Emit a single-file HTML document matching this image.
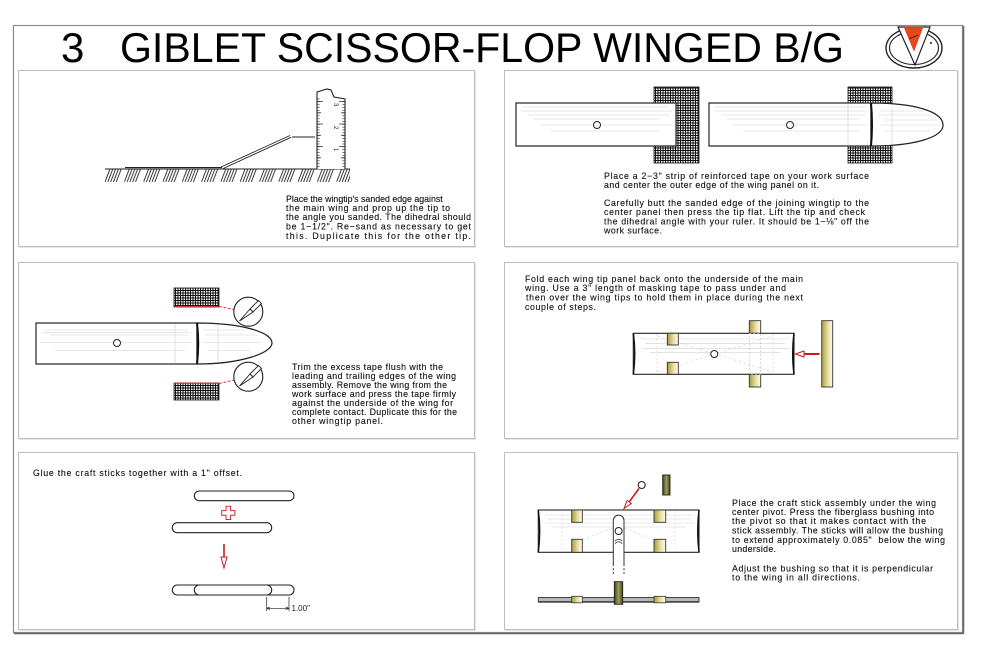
<!DOCTYPE html>
<html><head><meta charset="utf-8"><style>
html,body{margin:0;padding:0;background:#fff;}
svg{display:block;}
.t{font-family:"Liberation Sans",Arial,sans-serif;font-size:8.8px;fill:#111;stroke:#111;stroke-width:0.12;}
</style></head><body>
<svg width="1000" height="647" viewBox="0 0 1000 647" xmlns="http://www.w3.org/2000/svg">
<defs>
<pattern id="mesh" width="2.5" height="2.5" patternUnits="userSpaceOnUse"><rect width="2.5" height="2.5" fill="#fff"/><rect width="2.5" height="1" fill="#111"/><rect width="1" height="2.5" fill="#111"/></pattern>
<pattern id="hatch" x="105" y="169" width="19.3" height="13" patternUnits="userSpaceOnUse">
<g stroke="#222" stroke-width="0.9"><line x1="0" y1="13" x2="5" y2="0"/><line x1="2.8" y1="13" x2="7.8" y2="0"/><line x1="5.6" y1="13" x2="10.6" y2="0"/><line x1="8.4" y1="13" x2="13.4" y2="0"/><line x1="11.2" y1="13" x2="16.2" y2="0"/></g></pattern>
<pattern id="ticks" x="0" y="169" width="4" height="2.8125" patternUnits="userSpaceOnUse"><rect width="4" height="0.6" fill="#222"/></pattern>
<linearGradient id="tape" x1="0" x2="1" y1="0" y2="0"><stop offset="0" stop-color="#a99a3c"/><stop offset="0.55" stop-color="#e6dea6"/><stop offset="1" stop-color="#fffdf0"/></linearGradient>
<linearGradient id="bush" x1="0" x2="1" y1="0" y2="0"><stop offset="0" stop-color="#3f3f10"/><stop offset="0.5" stop-color="#a0a05a"/><stop offset="1" stop-color="#45451a"/></linearGradient>
<clipPath id="hc"><rect x="105" y="169" width="245" height="13"/></clipPath>
</defs>

<!-- outer frame -->
<rect x="13.5" y="25.5" width="949" height="607" fill="#fff" stroke="#8a8a8a" stroke-width="1.2"/>
<line x1="14" y1="633.5" x2="963.5" y2="633.5" stroke="#666" stroke-width="1.5"/>
<line x1="963.5" y1="26" x2="963.5" y2="634" stroke="#666" stroke-width="1.5"/>

<!-- title -->
<text x="61" y="62" style="font-family:'Liberation Sans',Arial,sans-serif;font-size:42px;fill:#000">3</text>
<text x="120" y="62" textLength="724" lengthAdjust="spacingAndGlyphs" style="font-family:'Liberation Sans',Arial,sans-serif;font-size:42px;fill:#000">GIBLET SCISSOR-FLOP WINGED B/G</text>

<!-- logo -->
<g>
<ellipse cx="914" cy="48" rx="28" ry="20" fill="#fff" stroke="#222" stroke-width="1.4"/>
<ellipse cx="914" cy="48" rx="24.5" ry="16.5" fill="#fff" stroke="#222" stroke-width="1.1"/>
<polygon points="898,27 930,27 915,65" fill="#fff" stroke="#222" stroke-width="1.2"/>
<polygon points="904,27 923,27 914,51" fill="#e8471c" stroke="#c33" stroke-width="0.5"/>
<line x1="909" y1="39" x2="918" y2="35" stroke="#222" stroke-width="0.9"/>
<circle cx="931" cy="43" r="1" fill="#222"/>
</g>

<!-- panels -->
<g fill="none">
<g stroke="#e6e6e6" stroke-width="1">
<rect x="19.5" y="71.5" width="456" height="176"/>
<rect x="505.5" y="71.5" width="453" height="176"/>
<rect x="19.5" y="263.5" width="456" height="176"/>
<rect x="505.5" y="263.5" width="453" height="176"/>
<rect x="19.5" y="453.5" width="456" height="177"/>
<rect x="505.5" y="453.5" width="453" height="177"/>
</g>
<g stroke="#bdbdbd" stroke-width="1">
<rect x="18.5" y="70.5" width="456" height="176" fill="#fff"/>
<rect x="504.5" y="70.5" width="453" height="176" fill="#fff"/>
<rect x="18.5" y="262.5" width="456" height="176" fill="#fff"/>
<rect x="504.5" y="262.5" width="453" height="176" fill="#fff"/>
<rect x="18.5" y="452.5" width="456" height="177" fill="#fff"/>
<rect x="504.5" y="452.5" width="453" height="177" fill="#fff"/>
</g>
</g>

<!-- ===== Panel 1 ===== -->
<rect x="105" y="169" width="245" height="13" fill="url(#hatch)" clip-path="url(#hc)"/>
<line x1="105" y1="169" x2="350" y2="169" stroke="#222" stroke-width="1.1"/>
<line x1="125" y1="167.6" x2="222" y2="167.6" stroke="#222" stroke-width="1.1"/>
<line x1="221" y1="167" x2="290" y2="135.5" stroke="#222" stroke-width="0.9"/>
<line x1="223" y1="168.6" x2="291" y2="137.3" stroke="#222" stroke-width="0.9"/>
<line x1="292" y1="137" x2="315" y2="137" stroke="#222" stroke-width="1"/>
<!-- ruler -->
<polyline points="317,169 317,92 327,89 331,90 334,97 345,99 345,169" fill="#fff" stroke="#222" stroke-width="1.1"/>
<rect x="317.5" y="97" width="2.2" height="72" fill="url(#ticks)"/>
<rect x="342.3" y="100" width="2.2" height="69" fill="url(#ticks)"/>
<g stroke="#222" stroke-width="0.7">
<line x1="317" y1="157.75" x2="321" y2="157.75"/><line x1="345" y1="157.75" x2="341" y2="157.75"/>
<line x1="317" y1="146.5" x2="323" y2="146.5"/><line x1="345" y1="146.5" x2="339" y2="146.5"/>
<line x1="317" y1="135.25" x2="321" y2="135.25"/><line x1="345" y1="135.25" x2="341" y2="135.25"/>
<line x1="317" y1="124" x2="323" y2="124"/><line x1="345" y1="124" x2="339" y2="124"/>
<line x1="317" y1="112.75" x2="321" y2="112.75"/><line x1="345" y1="112.75" x2="341" y2="112.75"/>
<line x1="317" y1="101.5" x2="323" y2="101.5"/><line x1="345" y1="101.5" x2="339" y2="101.5"/>
</g>
<g style="font-family:'Liberation Sans',Arial,sans-serif;font-size:6px;fill:#222">
<text transform="translate(334,148) rotate(90)">1</text>
<text transform="translate(334,126) rotate(90)">2</text>
<text transform="translate(334,103) rotate(90)">3</text>
</g>
<g class="t">
<text x="286" y="202">Place the wingtip's sanded edge against</text>
<text x="286" y="211" textLength="164" lengthAdjust="spacing">the main wing and prop up the tip to</text>
<text x="286" y="220" textLength="185" lengthAdjust="spacing">the angle you sanded. The dihedral should</text>
<text x="286" y="229.5" textLength="185" lengthAdjust="spacing">be 1−1/2". Re−sand as necessary to get</text>
<text x="286" y="239" textLength="185" lengthAdjust="spacing">this. Duplicate this for the other tip.</text>
</g>

<!-- ===== Panel 2 ===== -->
<rect x="654" y="87" width="45" height="76" fill="url(#mesh)" stroke="#111" stroke-width="0.8"/>
<rect x="848" y="87" width="44" height="76" fill="url(#mesh)" stroke="#111" stroke-width="0.8"/>
<rect x="516" y="103" width="160" height="43" fill="#fff" stroke="#222" stroke-width="1.2"/>
<rect x="709" y="103" width="162" height="43" fill="#fff" stroke="#222" stroke-width="1.2"/>
<path d="M871,103 C916,103 943,112 943,125 C943,137 916,146 871,146 Z" fill="#fff" stroke="#222" stroke-width="1.2"/>
<path d="M871,103 Q873,124.5 871,146" fill="none" stroke="#111" stroke-width="2"/>
<g stroke="#cfcfcf" stroke-width="0.6">
<line x1="522" y1="107" x2="668" y2="107"/><line x1="520" y1="111" x2="672" y2="111"/><line x1="528" y1="115" x2="670" y2="115"/><line x1="534" y1="119" x2="660" y2="119"/><line x1="540" y1="125" x2="672" y2="125"/><line x1="550" y1="131" x2="660" y2="131"/>
<line x1="715" y1="107" x2="866" y2="107"/><line x1="713" y1="111" x2="866" y2="111"/><line x1="721" y1="115" x2="866" y2="115"/><line x1="727" y1="119" x2="860" y2="119"/><line x1="733" y1="125" x2="866" y2="125"/><line x1="743" y1="131" x2="860" y2="131"/>
<line x1="880" y1="111" x2="925" y2="111"/><line x1="878" y1="115" x2="932" y2="115"/><line x1="885" y1="120" x2="938" y2="120"/><line x1="880" y1="125" x2="940" y2="125"/><line x1="885" y1="131" x2="930" y2="131"/>
<line x1="848" y1="104" x2="848" y2="145"/><line x1="892" y1="106" x2="892" y2="143"/>
</g>
<circle cx="597" cy="125" r="3.5" fill="#fff" stroke="#222" stroke-width="1"/>
<circle cx="790" cy="125" r="3.5" fill="#fff" stroke="#222" stroke-width="1"/>
<g class="t">
<text x="604" y="179" textLength="265" lengthAdjust="spacing">Place a 2−3" strip of reinforced tape on your work surface</text>
<text x="604" y="188" textLength="215" lengthAdjust="spacing">and center the outer edge of the wing panel on it.</text>
<text x="604" y="206" textLength="265" lengthAdjust="spacing">Carefully butt the sanded edge of the joining wingtip to the</text>
<text x="604" y="215" textLength="261" lengthAdjust="spacing">center panel then press the tip flat. Lift the tip and check</text>
<text x="604" y="224.5" textLength="265" lengthAdjust="spacing">the dihedral angle with your ruler. It should be 1−⅛" off the</text>
<text x="604" y="233.5" textLength="58" lengthAdjust="spacing">work surface.</text>
</g>

<!-- ===== Panel 3 ===== -->
<rect x="174" y="288" width="45" height="19" fill="url(#mesh)" stroke="#111" stroke-width="0.8"/>
<rect x="174" y="383" width="45" height="17" fill="url(#mesh)" stroke="#111" stroke-width="0.8"/>
<line x1="174" y1="306.7" x2="219" y2="306.7" stroke="#d02828" stroke-width="1.2"/>
<line x1="174" y1="383.2" x2="219" y2="383.2" stroke="#d02828" stroke-width="1.2"/>
<line x1="219" y1="306.5" x2="234" y2="309.5" stroke="#d02828" stroke-width="0.9" stroke-dasharray="3,1.5"/>
<line x1="219" y1="383.5" x2="234" y2="380" stroke="#d02828" stroke-width="0.9" stroke-dasharray="3,1.5"/>
<rect x="36" y="323" width="161" height="41" fill="#fff" stroke="#222" stroke-width="1.2"/>
<path d="M197,323 C241,323 272,332 272,343 C272,353 241,364 197,364 Z" fill="#fff" stroke="#222" stroke-width="1.2"/>
<path d="M197,323 Q199.5,343.5 197,364" fill="none" stroke="#111" stroke-width="2"/>
<g stroke="#cfcfcf" stroke-width="0.6">
<line x1="44" y1="330" x2="188" y2="330"/><line x1="42" y1="332.5" x2="190" y2="332.5"/><line x1="50" y1="335" x2="188" y2="335"/><line x1="40" y1="342.5" x2="192" y2="342.5"/><line x1="55" y1="350.5" x2="185" y2="350.5"/>
<line x1="203" y1="330" x2="245" y2="330"/><line x1="205" y1="335" x2="258" y2="335"/><line x1="202" y1="342.5" x2="262" y2="342.5"/><line x1="208" y1="350.5" x2="250" y2="350.5"/>
<line x1="175" y1="324" x2="175" y2="363"/><line x1="218" y1="325" x2="218" y2="362"/>
</g>
<circle cx="117" cy="343" r="3.5" fill="#fff" stroke="#222" stroke-width="1"/>
<g stroke="#222" stroke-width="0.9">
<circle cx="248.3" cy="311.7" r="14.5" fill="#fff" stroke-width="1.1"/>
<polygon points="250,309 258.5,300.5 261.5,303.5 253,312" fill="#fff"/>
<polygon points="250,309 253,312 239.5,321" fill="#fff"/>
<circle cx="248.3" cy="376.7" r="14.5" fill="#fff" stroke-width="1.1"/>
<polygon points="250,374 258.5,365.5 261.5,368.5 253,377" fill="#fff"/>
<polygon points="250,374 253,377 239.5,386" fill="#fff"/>
</g>
<g class="t">
<text x="292" y="370" textLength="151" lengthAdjust="spacing">Trim the excess tape flush with the</text>
<text x="292" y="379" textLength="164" lengthAdjust="spacing">leading and trailing edges of the wing</text>
<text x="292" y="388" textLength="155" lengthAdjust="spacing">assembly. Remove the wing from the</text>
<text x="292" y="397" textLength="164" lengthAdjust="spacing">work surface and press the tape firmly</text>
<text x="292" y="406" textLength="161" lengthAdjust="spacing">against the underside of the wing for</text>
<text x="292" y="415" textLength="165" lengthAdjust="spacing">complete contact. Duplicate this for the</text>
<text x="292" y="424" textLength="91" lengthAdjust="spacing">other wingtip panel.</text>
</g>

<!-- ===== Panel 4 ===== -->
<g class="t">
<text x="525" y="282" textLength="278" lengthAdjust="spacing">Fold each wing tip panel back onto the underside of the main</text>
<text x="525" y="291" textLength="261" lengthAdjust="spacing">wing. Use a 3" length of masking tape to pass under and</text>
<text x="526" y="300.5" textLength="277" lengthAdjust="spacing">then over the wing tips to hold them in place during the next</text>
<text x="525" y="310" textLength="71" lengthAdjust="spacing">couple of steps.</text>
</g>
<rect x="749.3" y="320.7" width="11.4" height="66.3" fill="url(#tape)" stroke="#333" stroke-width="0.9"/>
<rect x="633.3" y="333.3" width="160.7" height="41" fill="#fff" stroke="#222" stroke-width="1.1"/>
<g stroke="#d2d2d2" stroke-width="0.6">
<line x1="640" y1="339" x2="788" y2="339"/><line x1="645" y1="343.3" x2="785" y2="343.3"/><line x1="642" y1="348.3" x2="790" y2="348.3"/><line x1="650" y1="352.3" x2="780" y2="352.3"/>
<line x1="657" y1="334" x2="657" y2="374" stroke-dasharray="2,2"/><line x1="773" y1="334" x2="773" y2="374" stroke-dasharray="2,2"/>
<line x1="657" y1="336" x2="773" y2="372" stroke-dasharray="3,2"/><line x1="657" y1="372" x2="773" y2="336" stroke-dasharray="3,2"/>
</g>
<path d="M633.3,333.3 Q636,354 633.3,374.3" fill="none" stroke="#111" stroke-width="1.6"/>
<path d="M794,333.3 Q791.5,354 794,374.3" fill="none" stroke="#111" stroke-width="1.6"/>
<rect x="667.3" y="333.3" width="11" height="11.7" fill="url(#tape)" stroke="#333" stroke-width="0.9"/>
<rect x="667.3" y="362.3" width="11" height="12" fill="url(#tape)" stroke="#333" stroke-width="0.9"/>
<rect x="749.3" y="333.3" width="11.4" height="41" fill="none" stroke="#bbb" stroke-width="0.6" stroke-dasharray="2,2"/>
<circle cx="714.3" cy="354" r="3.5" fill="#fff" stroke="#222" stroke-width="1"/>
<line x1="803" y1="354" x2="819.5" y2="354" stroke="#c41e1e" stroke-width="2"/>
<polygon points="795.5,354 804,351 804,357" fill="#fff" stroke="#c41e1e" stroke-width="1"/>
<rect x="821.7" y="320.7" width="11" height="66.3" fill="url(#tape)" stroke="#333" stroke-width="0.9"/>

<!-- ===== Panel 5 ===== -->
<g class="t">
<text x="33" y="476" textLength="209" lengthAdjust="spacing">Glue the craft sticks together with a 1" offset.</text>
</g>
<g fill="#fff" stroke="#222" stroke-width="1.1">
<rect x="194.3" y="491" width="99.7" height="9.7" rx="4.85"/>
<rect x="172.3" y="522.7" width="99.4" height="10" rx="5"/>
<rect x="172.3" y="585" width="121.7" height="10" rx="5"/>
</g>
<g fill="none" stroke="#222" stroke-width="1.1">
<path d="M199.3,585 A5,5 0 0 0 199.3,595"/>
<path d="M266.7,585 A5,5 0 0 1 266.7,595"/>
</g>
<polygon points="226,506.3 230.6,506.3 230.6,510.6 234.9,510.6 234.9,515.2 230.6,515.2 230.6,519.5 226,519.5 226,515.2 221.7,515.2 221.7,510.6 226,510.6" fill="#fff" stroke="#d42a2a" stroke-width="1"/>
<line x1="224" y1="544" x2="224" y2="557" stroke="#c41e1e" stroke-width="1.6"/>
<polygon points="221,557 227,557 224,568" fill="#fff" stroke="#c41e1e" stroke-width="1"/>
<g stroke="#222" stroke-width="0.7">
<line x1="266.7" y1="597" x2="266.7" y2="611"/>
<line x1="289" y1="597" x2="289" y2="611"/>
<line x1="266.7" y1="608.3" x2="289" y2="608.3"/>
<line x1="266.7" y1="608.3" x2="270" y2="607"/><line x1="266.7" y1="608.3" x2="270" y2="609.6"/>
<line x1="289" y1="608.3" x2="285.7" y2="607"/><line x1="289" y1="608.3" x2="285.7" y2="609.6"/>
</g>
<text x="291.5" y="611" style="font-family:'Liberation Sans',Arial,sans-serif;font-size:8px;fill:#222">1.00"</text>

<!-- ===== Panel 6 ===== -->
<rect x="538.3" y="510" width="160.7" height="42.3" fill="#fff" stroke="#222" stroke-width="1.1"/>
<g stroke="#d2d2d2" stroke-width="0.6">
<line x1="545" y1="515" x2="692" y2="515"/><line x1="548" y1="519" x2="690" y2="519"/><line x1="545" y1="523" x2="694" y2="523"/><line x1="552" y1="527" x2="686" y2="527"/>
<line x1="562" y1="511" x2="562" y2="552" stroke-dasharray="2,2"/><line x1="675" y1="511" x2="675" y2="552" stroke-dasharray="2,2"/>
<line x1="582" y1="540" x2="613" y2="528" stroke-dasharray="3,2"/><line x1="624" y1="528" x2="654" y2="540" stroke-dasharray="3,2"/>
</g>
<path d="M538.3,510 Q541,531 538.3,552.3" fill="none" stroke="#111" stroke-width="1.5"/>
<path d="M699,510 Q696.5,531 699,552.3" fill="none" stroke="#111" stroke-width="1.5"/>
<g stroke="#333" stroke-width="0.9">
<rect x="571.7" y="510" width="10.6" height="12.3" fill="url(#tape)"/>
<rect x="571.7" y="539.3" width="10.6" height="13" fill="url(#tape)"/>
<rect x="654" y="510" width="11.7" height="12.3" fill="url(#tape)"/>
<rect x="654" y="539.3" width="11.7" height="13" fill="url(#tape)"/>
</g>
<path d="M613.3,566 L613.3,520.5 A5.35,5.35 0 0 1 624,520.5 L624,566" fill="#fff" stroke="#333" stroke-width="1"/>
<g stroke="#333" stroke-width="0.9">
<line x1="613.3" y1="568" x2="613.3" y2="570.5"/><line x1="613.3" y1="572" x2="613.3" y2="574"/>
<line x1="624" y1="568" x2="624" y2="570.5"/><line x1="624" y1="572" x2="624" y2="574"/>
</g>
<circle cx="618.6" cy="531" r="3.5" fill="#fff" stroke="#222" stroke-width="1"/>
<path d="M615,541 Q618.6,537.5 622.2,541" fill="none" stroke="#333" stroke-width="0.8"/>
<path d="M615,543.5 Q618.6,540 622.2,543.5" fill="none" stroke="#333" stroke-width="0.8"/>
<circle cx="641.7" cy="485" r="3.5" fill="#fff" stroke="#222" stroke-width="1.1"/>
<line x1="639" y1="488.5" x2="629.5" y2="501.5" stroke="#c41e1e" stroke-width="1.6"/>
<polygon points="624,508.5 631.3,503.6 627.1,500.4" fill="#fff" stroke="#c41e1e" stroke-width="1"/>
<rect x="662.7" y="475" width="7.3" height="20" fill="url(#bush)" stroke="#222" stroke-width="0.9"/>
<!-- side view -->
<rect x="538.3" y="597.5" width="160.7" height="4.3" fill="#b8b8b8" stroke="#333" stroke-width="0.9"/>
<line x1="538.3" y1="602" x2="699" y2="602" stroke="#222" stroke-width="1.2"/>
<rect x="571.7" y="596.3" width="10.6" height="6.5" fill="url(#tape)" stroke="#333" stroke-width="0.8"/>
<rect x="654" y="596.3" width="11.7" height="6.5" fill="url(#tape)" stroke="#333" stroke-width="0.8"/>
<rect x="614.3" y="581.7" width="8.4" height="22.6" fill="url(#bush)" stroke="#222" stroke-width="0.9"/>
<g class="t">
<text x="732" y="506" textLength="204" lengthAdjust="spacing">Place the craft stick assembly under the wing</text>
<text x="732" y="515" textLength="202" lengthAdjust="spacing">center pivot. Press the fiberglass bushing into</text>
<text x="732" y="524" textLength="194" lengthAdjust="spacing">the pivot so that it makes contact with the</text>
<text x="732" y="533.5" textLength="211" lengthAdjust="spacing">stick assembly. The sticks will allow the bushing</text>
<text x="732" y="543" textLength="213" lengthAdjust="spacing">to extend approximately 0.085"&#160; below the wing</text>
<text x="732" y="552" textLength="44" lengthAdjust="spacing">underside.</text>
<text x="732" y="571.5" textLength="201" lengthAdjust="spacing">Adjust the bushing so that it is perpendicular</text>
<text x="732" y="580.5" textLength="128" lengthAdjust="spacing">to the wing in all directions.</text>
</g>
</svg>
</body></html>
